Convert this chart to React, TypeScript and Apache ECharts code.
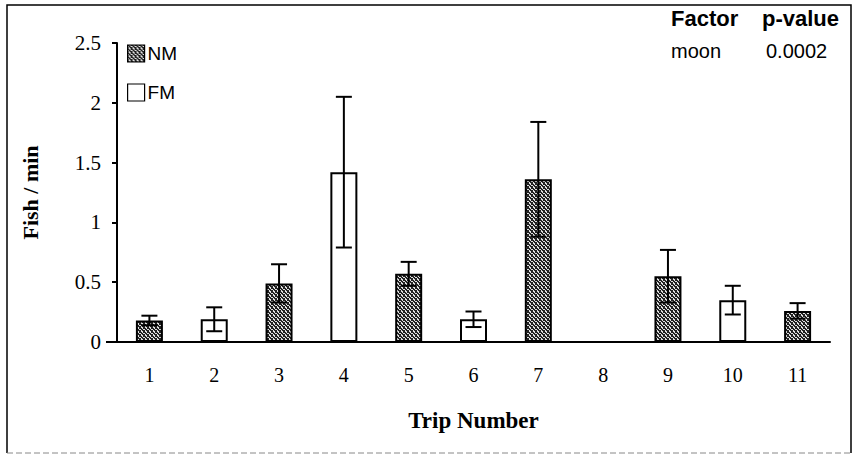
import React, { useEffect, useRef } from "react";
import * as echarts from "echarts";

const categories = ["1", "2", "3", "4", "5", "6", "7", "8", "9", "10", "11"];
const nmValues: (number | string)[] = [0.18, "-", 0.49, "-", 0.57, "-", 1.36, "-", 0.55, "-", 0.26];
const fmValues: (number | string)[] = ["-", 0.19, "-", 1.42, "-", 0.19, "-", "-", "-", 0.35, "-"];
const errValues: (number | null)[] = [0.04, 0.1, 0.16, 0.63, 0.1, 0.065, 0.48, null, 0.22, 0.12, 0.065];
const yTicks = [0, 0.5, 1, 1.5, 2, 2.5];
const statsHeader = ["Factor", "p-value"];
const statsRow = ["moon", "0.0002"];

function makePattern(): HTMLCanvasElement {
  const c = document.createElement("canvas");
  c.width = 4;
  c.height = 4;
  const ctx = c.getContext("2d")!;
  ctx.fillStyle = "#e0e0e0";
  ctx.fillRect(0, 0, 4, 4);
  ctx.fillStyle = "#222222";
  const dark = [
    [0, 0], [1, 0], [3, 0],
    [1, 1], [2, 1],
    [2, 2], [3, 2], [0, 2],
    [3, 3], [0, 3],
  ];
  dark.forEach(([x, y]) => ctx.fillRect(x, y, 1, 1));
  return c;
}

export default function App() {
  const ref = useRef<HTMLDivElement>(null);
  useEffect(() => {
    if (!ref.current) return;
    const chart = echarts.init(ref.current, null, { renderer: "svg" });
    const pattern = { image: makePattern(), repeat: "repeat" };
    const errData = errValues
      .map((e, i) => {
        const v = typeof nmValues[i] === "number" ? nmValues[i] : fmValues[i];
        return e == null || typeof v !== "number" ? null : [i, v, e];
      })
      .filter((d) => d !== null);

    const serif = "'Liberation Serif', 'Times New Roman', serif";
    const sans = "'Liberation Sans', Arial, sans-serif";

    chart.setOption({
      animation: false,
      backgroundColor: "#ffffff",
      grid: { left: 117, right: 25, top: 43, bottom: 115, containLabel: false },
      legend: {
        orient: "vertical",
        left: 122,
        top: 39,
        itemWidth: 17,
        itemHeight: 17,
        itemGap: 20,
        itemStyle: { borderColor: "#000", borderWidth: 1.2 },
        textStyle: { fontFamily: sans, fontSize: 19, color: "#000", padding: [0, 0, 0, -2] },
        data: [
          { name: "NM", icon: "rect" },
          { name: "FM", icon: "rect" },
        ],
      },
      xAxis: {
        type: "category",
        data: categories,
        name: "Trip Number",
        nameLocation: "middle",
        nameGap: 67,
        nameTextStyle: { fontFamily: serif, fontSize: 23, fontWeight: "bold", color: "#000" },
        axisLine: { lineStyle: { color: "#000", width: 2 } },
        axisTick: { show: false },
        axisLabel: { fontFamily: serif, fontSize: 20, color: "#000", margin: 23 },
      },
      yAxis: {
        type: "value",
        min: yTicks[0],
        max: yTicks[yTicks.length - 1],
        interval: 0.5,
        name: "Fish / min",
        nameLocation: "middle",
        nameGap: 76,
        nameTextStyle: { fontFamily: serif, fontSize: 22, fontWeight: "bold", color: "#000" },
        axisLine: { show: true, lineStyle: { color: "#000", width: 2 } },
        axisTick: { show: true, length: 5, lineStyle: { color: "#000", width: 2 } },
        splitLine: { show: false },
        axisLabel: { fontFamily: serif, fontSize: 21, color: "#000", margin: 16 },
      },
      series: [
        {
          name: "NM",
          type: "bar",
          data: nmValues,
          barWidth: 27,
          barGap: "-100%",
          itemStyle: { color: pattern, borderColor: "#000", borderWidth: 2 },
        },
        {
          name: "FM",
          type: "bar",
          data: fmValues,
          barWidth: 27,
          itemStyle: { color: "#ffffff", borderColor: "#000", borderWidth: 2 },
        },
        {
          name: "err",
          type: "custom",
          data: errData,
          encode: { x: 0, y: 1 },
          z: 10,
          silent: true,
          renderItem: (params: any, api: any) => {
            const x = api.value(0);
            const y = api.value(1);
            const e = api.value(2);
            const hi = api.coord([x, y + e]);
            const lo = api.coord([x, Math.max(0, y - e)]);
            const half = 8;
            const st = { stroke: "#000", lineWidth: 2 };
            return {
              type: "group",
              children: [
                { type: "line", shape: { x1: hi[0], y1: hi[1], x2: lo[0], y2: lo[1] }, style: st },
                { type: "line", shape: { x1: hi[0] - half, y1: hi[1], x2: hi[0] + half, y2: hi[1] }, style: st },
                { type: "line", shape: { x1: lo[0] - half, y1: lo[1], x2: lo[0] + half, y2: lo[1] }, style: st },
              ],
            };
          },
        },
      ],
      graphic: [
        {
          type: "polyline",
          shape: { points: [[7, 453], [7, 5], [851, 5], [851, 453]] },
          style: { stroke: "#000", lineWidth: 1.5, fill: "none" },
          silent: true,
        },
        {
          type: "line",
          shape: { x1: 7, y1: 453, x2: 851, y2: 453 },
          style: { stroke: "#888", lineWidth: 1, lineDash: [6, 3] },
          silent: true,
        },
        {
          type: "line",
          shape: { x1: 106, y1: 342, x2: 118, y2: 342 },
          style: { stroke: "#000", lineWidth: 2 },
          silent: true,
        },
        {
          type: "text", x: 671, y: 18,
          style: { text: statsHeader[0], font: `bold 22px ${sans}`, fill: "#000", verticalAlign: "middle" },
        },
        {
          type: "text", x: 762, y: 18,
          style: { text: statsHeader[1], font: `bold 22px ${sans}`, fill: "#000", verticalAlign: "middle" },
        },
        {
          type: "text", x: 671, y: 51,
          style: { text: statsRow[0], font: `20px ${sans}`, fill: "#000", verticalAlign: "middle" },
        },
        {
          type: "text", x: 766, y: 51,
          style: { text: statsRow[1], font: `20px ${sans}`, fill: "#000", verticalAlign: "middle" },
        },
      ],
    });
    return () => chart.dispose();
  }, []);
  return (
    <div
      ref={ref}
      style={{ position: "fixed", left: 0, top: 0, width: 855, height: 457, background: "#fff" }}
    />
  );
}
